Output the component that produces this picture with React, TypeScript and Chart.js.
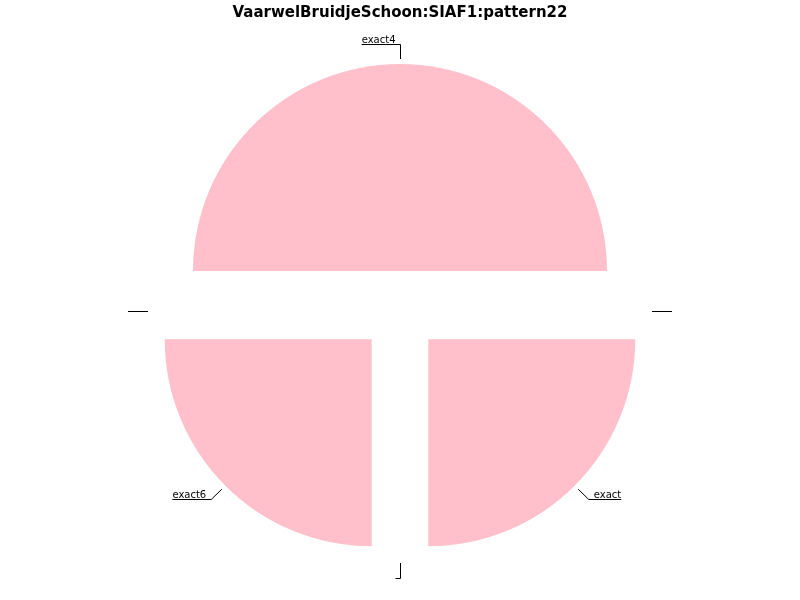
import React, { useEffect, useRef } from "react";
import { Chart, registerables } from "chart.js";

Chart.register(...registerables);

const TITLE = "VaarwelBruidjeSchoon:SIAF1:pattern22";
const labels = ["exact4", "", "exact", "", "exact6", ""];
const values = [50, 0, 25, 0, 25, 0];

const EXPLODE = 40;
const RADIUS = 207;
const SLICE_COLOR = "#FFC0CB";

const explodePlugin = {
  id: "explodeSlices",
  afterDatasetsUpdate(chart: any) {
    const meta = chart.getDatasetMeta(0);
    meta.data.forEach((arc: any) => {
      const mid = (arc.startAngle + arc.endAngle) / 2;
      arc.x += Math.cos(mid) * EXPLODE;
      arc.y += Math.sin(mid) * EXPLODE;
    });
  },
};

const snap = (v: number) => Math.floor(v) + 0.5;

const leaderPlugin = {
  id: "leaderLabels",
  afterDraw(chart: any) {
    const ctx = chart.ctx;
    const meta = chart.getDatasetMeta(0);
    const lbls = chart.data.labels as string[];
    ctx.save();
    ctx.font = "10px 'DejaVu Sans'";
    ctx.strokeStyle = "#000";
    ctx.fillStyle = "#000";
    ctx.lineWidth = 1;
    meta.data.forEach((arc: any, i: number) => {
      const mid = (arc.startAngle + arc.endAngle) / 2;
      const dx = Math.cos(mid);
      const dy = Math.sin(mid);
      const r1 = arc.outerRadius + 5;
      let x1 = arc.x + dx * r1;
      let y1 = arc.y + dy * r1;
      let x2 = x1 + dx * 15;
      let y2 = y1 + dy * 15;
      if (Math.abs(dx) < 1e-6) {
        x1 = snap(x1);
        x2 = x1;
      }
      y2 = snap(y2);
      if (Math.abs(dy) < 1e-6) y1 = y2;
      const text = lbls[i] || "";
      const w = ctx.measureText(text).width;
      const right = dx > 1e-9;
      const x3 = right ? x2 + 5 + w : x2 - 5 - w;
      ctx.beginPath();
      ctx.moveTo(x1, y1);
      ctx.lineTo(x2, y2);
      ctx.lineTo(x3, y2);
      ctx.stroke();
      if (text) {
        ctx.textBaseline = "alphabetic";
        ctx.textAlign = "left";
        const tx = right ? x2 + 5 : x3;
        ctx.fillText(text, tx, y2 - 1.5);
      }
    });
    ctx.restore();
  },
};

export default function App() {
  const ref = useRef<HTMLCanvasElement>(null);
  useEffect(() => {
    if (!ref.current) return;
    const chart = new Chart(ref.current, {
      type: "pie",
      data: {
        labels,
        datasets: [
          {
            data: values,
            backgroundColor: SLICE_COLOR,
            borderWidth: 0,
          },
        ],
      },
      options: {
        responsive: false,
        animation: false,
        rotation: -90,
        radius: RADIUS,
        layout: { padding: { top: 0, bottom: 8, left: 0, right: 0 } },
        plugins: {
          legend: { display: false },
          tooltip: { enabled: false },
          title: {
            display: true,
            text: TITLE,
            color: "#000",
            font: { family: "'DejaVu Sans'", size: 15, weight: "bold" },
            padding: { top: 4, bottom: 8 },
          },
        },
      },
      plugins: [explodePlugin, leaderPlugin],
    });
    return () => chart.destroy();
  }, []);
  return (
    <div style={{ position: "absolute", left: 0, top: 0, width: 800, height: 600, background: "#fff" }}>
      <canvas ref={ref} width={800} height={600} />
    </div>
  );
}
